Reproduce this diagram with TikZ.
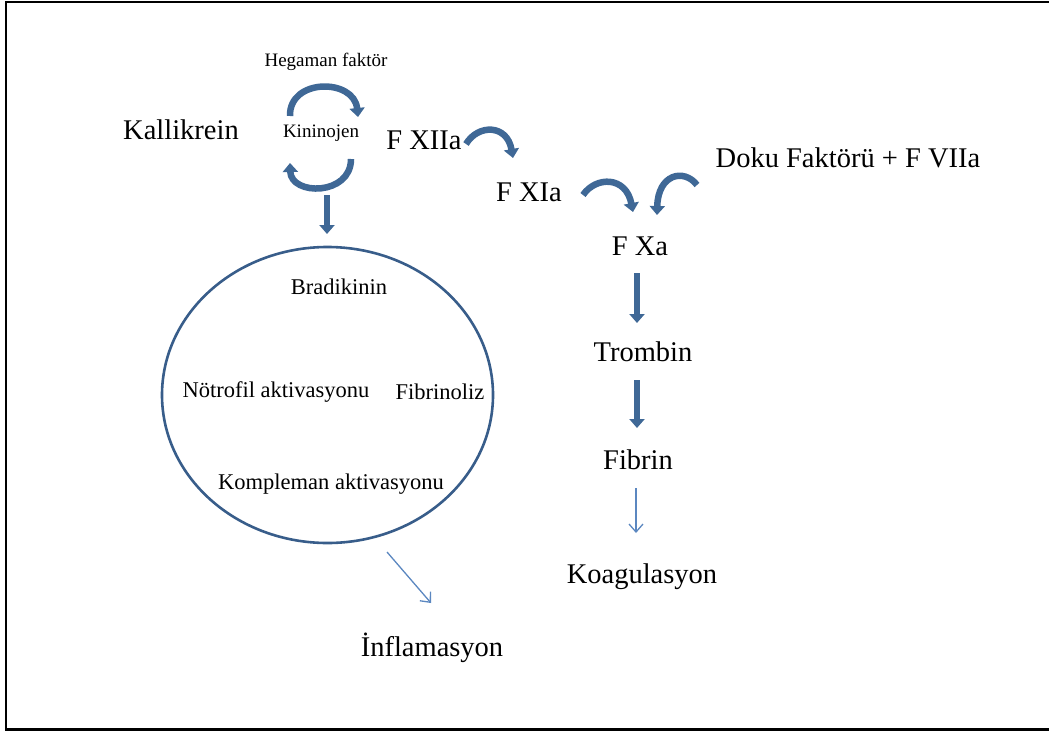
\documentclass[tikz,border=0pt]{standalone}
\usepackage{fontspec}
\setmainfont{Liberation Serif}
\usetikzlibrary{arrows.meta}
\definecolor{thickblue}{HTML}{3F6896}
\definecolor{ringblue}{HTML}{385D8A}
\definecolor{thinblue}{HTML}{5B87C0}
\tikzset{
  big/.style={font=\fontsize{28.5}{31}\selectfont, inner sep=0pt},
  small/.style={font=\fontsize{19}{21}\selectfont, inner sep=0pt},
  mid/.style={font=\fontsize{22.5}{25}\selectfont, inner sep=0pt},
  thickarr/.style={draw=thickblue, line width=6.5pt, -{Triangle[width=15pt,length=9pt]}},
  thinarr/.style={draw=thinblue, line width=1.3pt, -{Straight Barb[length=8pt,width=14pt]}},
  frameline/.style={draw=black, line width=2.6pt}
}
\begin{document}
\begin{tikzpicture}[x=1pt,y=-1pt]
\useasboundingbox (0,0) rectangle (1049,731);
% frame
\coordinate (ftl) at (6,2);
\coordinate (ftr) at (1049,2);
\coordinate (fbl) at (6,729.5);
\coordinate (fbr) at (1049,729.5);
\draw[frameline] (ftr) -- (ftl) -- (fbl) -- (fbr);

% texts
\node[small] (heg) at (326,62) {Hegaman faktör};
\node[small] (kin) at (321,133) {Kininojen};
\node[big] (kal) at (181,130) {Kallikrein};
\node[big] (f12) at (424,140) {F XIIa};
\node[big] (f11) at (529,192) {F XIa};
\node[big] (doku) at (848,158) {Doku Faktörü + F VIIa};
\node[big] (f10) at (640,246) {F Xa};
\node[big] (tro) at (643,352) {Trombin};
\node[big] (fib) at (638,460) {Fibrin};
\node[big] (koa) at (642,577) {Koagulasyon};
\node[big] (inf) at (432,648) {İnflamasyon};

% ellipse
\draw[ringblue, line width=2.6pt] (327.5,395) ellipse [x radius=165.5, y radius=148];
\node[mid] (bra) at (339,287) {Bradikinin};
\node[mid] (not) at (276,392) {Nötrofil aktivasyonu};
\node[mid] (fbz) at (440,392) {Fibrinoliz};
\node[mid] (kom) at (331,484) {Kompleman aktivasyonu};

% curved arrows around Kininojen
\coordinate (a1s) at (290,116);
\coordinate (a1e) at (358,117);
\draw[thickarr] (a1s) .. controls (289,78) and (354,78) .. (a1e);
\coordinate (a2s) at (351,159);
\coordinate (a2e) at (290,163);
\draw[thickarr] (a2s) .. controls (351,196) and (291,196) .. (a2e);
\coordinate (d1s) at (327,195);
\coordinate (d1e) at (327,234);
\draw[thickarr] (d1s) -- (d1e);

% coagulation cascade arcs
\coordinate (c1s) at (466,144);
\coordinate (c1e) at (513,158);
\draw[thickarr] (c1s) .. controls (478,124) and (507,124) .. (c1e);
\coordinate (c2s) at (583,195);
\coordinate (c2e) at (633,212);
\draw[thickarr] (c2s) .. controls (596,176) and (626,176) .. (c2e);
\coordinate (c3s) at (697,185);
\coordinate (c3e) at (657,215);
\draw[thickarr] (c3s) .. controls (684,168) and (658,174) .. (c3e);

% vertical arrows
\coordinate (v1s) at (637,273);
\coordinate (v1e) at (637,323);
\draw[thickarr] (v1s) -- (v1e);
\coordinate (v2s) at (637,380);
\coordinate (v2e) at (637,428);
\draw[thickarr] (v2s) -- (v2e);
\coordinate (v3s) at (636,488);
\coordinate (v3e) at (636,533);
\draw[thinarr] (v3s) -- (v3e);
\coordinate (i1s) at (387,552);
\coordinate (i1e) at (431,603);
\draw[thinarr] (i1s) -- (i1e);
\end{tikzpicture}
\end{document}
